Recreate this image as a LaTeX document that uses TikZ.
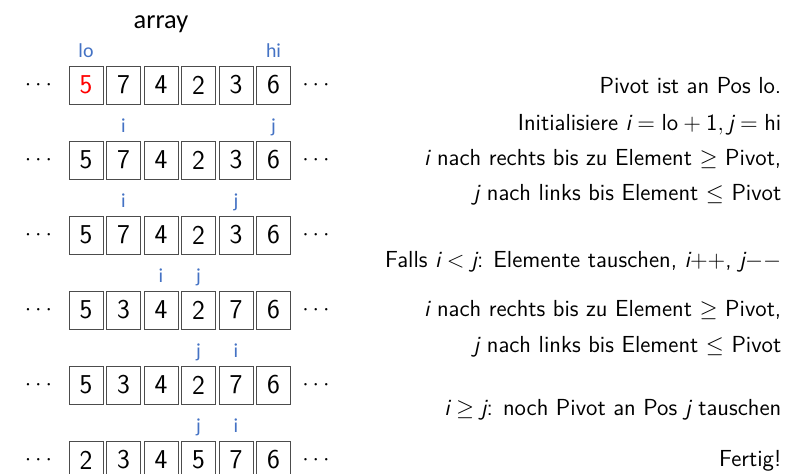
\RequirePackage{fix-cm}
\documentclass[tikz,border=0pt]{standalone}
\usepackage{fontspec}
\newfontfamily\calibri{Carlito}
\usetikzlibrary{calc}
\definecolor{ptrblue}{RGB}{68,114,196}
\newcommand{\ivar}{\mbox{\itshape i}}
\newcommand{\jvar}{\mbox{\itshape j}}

\begin{document}
\begin{tikzpicture}[
  cell/.style={
      draw=black!70,
      line width=0.5pt,
      minimum width=0.68cm,
      minimum height=0.76cm,
      inner sep=0pt,
      font=\sffamily\fontsize{15.5}{18}\selectfont
    },
  dots/.style={
      inner sep=0pt,
      font=\fontsize{13.2}{16}\selectfont
    },
  ptr/.style={
      anchor=base,
      text=ptrblue,
      font=\calibri\fontsize{11.3}{13}\selectfont
    },
  note/.style={
      anchor=base east,
      font=\sffamily\fontsize{13.2}{16}\selectfont
    }]

  \useasboundingbox (0,0) rectangle (16.1,-9.46);

  \node [ptr, text=black, font=\calibri\fontsize{15}{18}\selectfont] (title) at (3.22,-0.56) {array};

  % start
  \begin{scope}[yshift=-1.7cm]
    \node [cell, text=red] (c1) at (1.72,0) {5};
    \node [cell] (c2) at ($(c1) + (0.75cm, 0)$) {7};
    \node [cell] (c3) at ($(c2) + (0.75cm, 0)$) {4};
    \node [cell] (c4) at ($(c3) + (0.75cm, 0)$) {2};
    \node [cell] (c5) at ($(c4) + (0.75cm, 0)$) {3};
    \node [cell] (c6) at ($(c5) + (0.75cm, 0)$) {6};
    \node [dots] (left) at ($(c1) + (-0.95cm, 0)$) {$\cdots$};
    \node [dots] (right) at ($(c6) + (0.85cm, 0)$) {$\cdots$};
    \node [ptr] (lo) at ($(c1) + (0, 0.56cm)$) {lo};
    \node [ptr] (hi) at ($(c6) + (0, 0.56cm)$) {hi};
  \end{scope}

  \begin{scope}[yshift=-3.2cm]
    \node [cell] (c1) at (1.72,0) {5};
    \node [cell] (c2) at ($(c1) + (0.75cm, 0)$) {7};
    \node [cell] (c3) at ($(c2) + (0.75cm, 0)$) {4};
    \node [cell] (c4) at ($(c3) + (0.75cm, 0)$) {2};
    \node [cell] (c5) at ($(c4) + (0.75cm, 0)$) {3};
    \node [cell] (c6) at ($(c5) + (0.75cm, 0)$) {6};
    \node [dots] (left) at ($(c1) + (-0.95cm, 0)$) {$\cdots$};
    \node [dots] (right) at ($(c6) + (0.85cm, 0)$) {$\cdots$};
    \node [ptr] (i) at ($(c2) + (0, 0.56cm)$) {i};
    \node [ptr] (j) at ($(c6) + (0, 0.56cm)$) {j};
  \end{scope}

  \begin{scope}[yshift=-4.7cm]
    \node [cell] (c1) at (1.72,0) {5};
    \node [cell] (c2) at ($(c1) + (0.75cm, 0)$) {7};
    \node [cell] (c3) at ($(c2) + (0.75cm, 0)$) {4};
    \node [cell] (c4) at ($(c3) + (0.75cm, 0)$) {2};
    \node [cell] (c5) at ($(c4) + (0.75cm, 0)$) {3};
    \node [cell] (c6) at ($(c5) + (0.75cm, 0)$) {6};
    \node [dots] (left) at ($(c1) + (-0.95cm, 0)$) {$\cdots$};
    \node [dots] (right) at ($(c6) + (0.85cm, 0)$) {$\cdots$};
    \node [ptr] (i) at ($(c2) + (0, 0.56cm)$) {i};
    \node [ptr] (j) at ($(c5) + (0, 0.56cm)$) {j};
  \end{scope}

  % after the swap
  \begin{scope}[yshift=-6.2cm]
    \node [cell] (c1) at (1.72,0) {5};
    \node [cell] (c2) at ($(c1) + (0.75cm, 0)$) {3};
    \node [cell] (c3) at ($(c2) + (0.75cm, 0)$) {4};
    \node [cell] (c4) at ($(c3) + (0.75cm, 0)$) {2};
    \node [cell] (c5) at ($(c4) + (0.75cm, 0)$) {7};
    \node [cell] (c6) at ($(c5) + (0.75cm, 0)$) {6};
    \node [dots] (left) at ($(c1) + (-0.95cm, 0)$) {$\cdots$};
    \node [dots] (right) at ($(c6) + (0.85cm, 0)$) {$\cdots$};
    \node [ptr] (i) at ($(c3) + (0, 0.56cm)$) {i};
    \node [ptr] (j) at ($(c4) + (0, 0.56cm)$) {j};
  \end{scope}

  \begin{scope}[yshift=-7.7cm]
    \node [cell] (c1) at (1.72,0) {5};
    \node [cell] (c2) at ($(c1) + (0.75cm, 0)$) {3};
    \node [cell] (c3) at ($(c2) + (0.75cm, 0)$) {4};
    \node [cell] (c4) at ($(c3) + (0.75cm, 0)$) {2};
    \node [cell] (c5) at ($(c4) + (0.75cm, 0)$) {7};
    \node [cell] (c6) at ($(c5) + (0.75cm, 0)$) {6};
    \node [dots] (left) at ($(c1) + (-0.95cm, 0)$) {$\cdots$};
    \node [dots] (right) at ($(c6) + (0.85cm, 0)$) {$\cdots$};
    \node [ptr] (j) at ($(c4) + (0, 0.56cm)$) {j};
    \node [ptr] (i) at ($(c5) + (0, 0.56cm)$) {i};
  \end{scope}

  % pivot in place
  \begin{scope}[yshift=-9.2cm]
    \node [cell] (c1) at (1.72,0) {2};
    \node [cell] (c2) at ($(c1) + (0.75cm, 0)$) {3};
    \node [cell] (c3) at ($(c2) + (0.75cm, 0)$) {4};
    \node [cell] (c4) at ($(c3) + (0.75cm, 0)$) {5};
    \node [cell] (c5) at ($(c4) + (0.75cm, 0)$) {7};
    \node [cell] (c6) at ($(c5) + (0.75cm, 0)$) {6};
    \node [dots] (left) at ($(c1) + (-0.95cm, 0)$) {$\cdots$};
    \node [dots] (right) at ($(c6) + (0.85cm, 0)$) {$\cdots$};
    \node [ptr] (j) at ($(c4) + (0, 0.56cm)$) {j};
    \node [ptr] (i) at ($(c5) + (0, 0.56cm)$) {i};
  \end{scope}

  \node [note] (n1) at (15.75,-1.86) {Pivot ist an Pos lo.};
  \node [note] (n2) at (15.75,-2.60) {Initialisiere $\ivar = \mbox{lo} + \mbox{1}, \jvar = \mbox{hi}$};
  \node [note] (n3) at (15.75,-3.30) {$\ivar$ nach rechts bis zu Element $\geq$ Pivot,};
  \node [note] (n4) at (15.75,-4.00) {$\jvar$ nach links bis Element $\leq$ Pivot};
  \node [note] (n5) at (15.75,-5.34) {Falls $\ivar < \jvar$: Elemente tauschen, $\ivar{+}{+}$, $\jvar{-}{-}$};
  \node [note] (n6) at (15.75,-6.32) {$\ivar$ nach rechts bis zu Element $\geq$ Pivot,};
  \node [note] (n7) at (15.75,-7.04) {$\jvar$ nach links bis Element $\leq$ Pivot};
  \node [note] (n8) at (15.75,-8.30) {$\ivar \geq \jvar$: noch Pivot an Pos $\jvar$ tauschen};
  \node [note] (n9) at (15.75,-9.32) {Fertig!};
\end{tikzpicture}
\end{document}
